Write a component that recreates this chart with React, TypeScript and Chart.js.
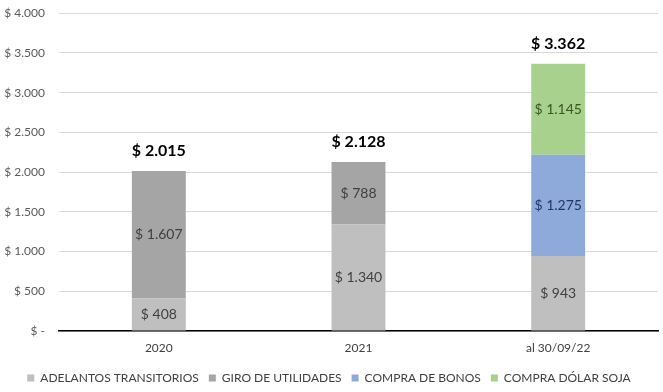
import React, { useEffect, useRef } from "react";
import { Chart, registerables } from "chart.js";

Chart.register(...registerables);

const categories = ["2020", "2021", "al 30/09/22"];
const seriesNames = ["ADELANTOS TRANSITORIOS", "GIRO DE UTILIDADES", "COMPRA DE BONOS", "COMPRA DÓLAR SOJA"];
const adelantos = [408, 1340, 943];
const giro = [1607, 788, null];
const bonos = [null, null, 1275];
const soja = [null, null, 1145];
const totals = [2015, 2128, 3362];
const yTicks = [0, 500, 1000, 1500, 2000, 2500, 3000, 3500, 4000];

const colors = ["#bfbfbf", "#a5a5a5", "#8eaadb", "#a9d18e"];
const labelColors = ["#404040", "#404040", "#1f3864", "#375623"];
const FONT = "Lato, 'Open Sans', sans-serif";

const fmt = (v: number) => (v === 0 ? "$ -" : "$ " + v.toLocaleString("de-DE"));

const labelsPlugin = {
  id: "labelsPlugin",
  afterDatasetsDraw(chart: any) {
    const ctx = chart.ctx;
    ctx.save();
    ctx.textAlign = "center";
    ctx.textBaseline = "middle";
    chart.data.datasets.forEach((ds: any, di: number) => {
      const meta = chart.getDatasetMeta(di);
      meta.data.forEach((bar: any, i: number) => {
        const v = ds.data[i];
        if (v == null) return;
        const y = (bar.y + bar.base) / 2;
        ctx.font = "14px " + FONT;
        ctx.fillStyle = labelColors[di];
        ctx.fillText(fmt(v), bar.x, y);
      });
    });
    const yScale = chart.scales.y;
    const meta0 = chart.getDatasetMeta(0);
    totals.forEach((t, i) => {
      const x = meta0.data[i].x;
      const y = yScale.getPixelForValue(t) - 20;
      ctx.font = "bold 16px " + FONT;
      ctx.fillStyle = "#000000";
      ctx.fillText(fmt(t), x, y);
    });
    ctx.restore();
  },
};

export default function App() {
  const ref = useRef<HTMLCanvasElement>(null);
  useEffect(() => {
    document.body.style.margin = "0";
    document.body.style.overflow = "hidden";
    document.documentElement.style.overflow = "hidden";
    const makeDs = (data: any[], i: number) => ({
      label: seriesNames[i],
      data,
      backgroundColor: colors[i],
      barPercentage: 0.27,
      categoryPercentage: 1,
      stack: "s",
    });
    const chart = new Chart(ref.current!, {
      type: "bar",
      data: {
        labels: categories,
        datasets: [makeDs(adelantos, 0), makeDs(giro, 1), makeDs(bonos, 2), makeDs(soja, 3)],
      },
      options: {
        animation: false,
        responsive: false,
        layout: { padding: { top: 0, right: 5, left: 0, bottom: 2 } },
        plugins: {
          tooltip: { enabled: false },
          legend: {
            position: "bottom",
            labels: {
              boxWidth: 7,
              boxHeight: 7,
              padding: 10,
              color: "#404040",
              font: { family: FONT, size: 12 },
            },
          },
        },
        scales: {
          x: {
            stacked: true,
            grid: { display: false, drawTicks: false },
            border: { color: "#000000", width: 1.5 },
            ticks: { color: "#404040", font: { family: FONT, size: 12 }, padding: 10 },
            afterFit: (s: any) => {
              s.height = 31;
            },
          },
          y: {
            stacked: true,
            min: 0,
            max: 4000,
            afterBuildTicks: (s: any) => {
              s.ticks = yTicks.map((v) => ({ value: v }));
            },
            afterFit: (s: any) => {
              s.width = 59;
            },
            grid: { color: "#d9d9d9", drawTicks: false, lineWidth: 1 },
            border: { display: false },
            ticks: {
              color: "#595959",
              font: { family: FONT, size: 12 },
              padding: 14,
              callback: (v: any) => fmt(Number(v)),
            },
          },
        },
      },
      plugins: [labelsPlugin],
    });
    return () => chart.destroy();
  }, []);
  return (
    <div style={{ position: "relative", width: 663, height: 392, overflow: "hidden" }}>
      <canvas
        ref={ref}
        width={663}
        height={404}
        style={{ display: "block", position: "absolute", left: 0, top: -8 }}
      />
    </div>
  );
}
